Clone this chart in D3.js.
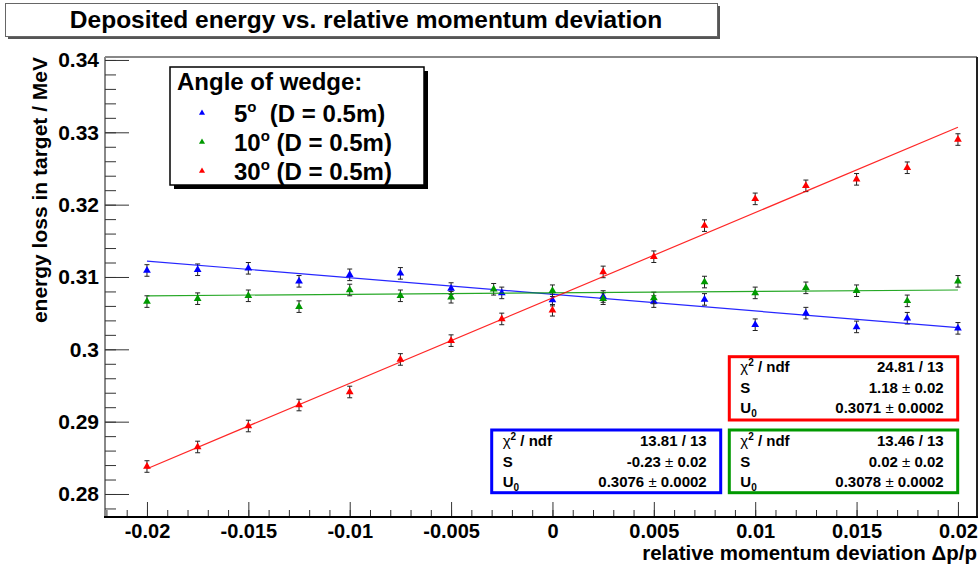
<!DOCTYPE html>
<html lang="en">
<head>
  <meta charset="UTF-8">
  <title>Deposited energy vs. relative momentum deviation</title>
  <script src="https://d3js.org/d3.v7.min.js"></script>
  <style>
    body { margin: 0; background: #fff; }
    svg { font-family: "Liberation Sans", Arial, Helvetica, sans-serif; font-weight: bold; }
    .axis path { display: none; }
    .axis line { stroke: #333; }
  </style>
</head>
<body>
  <svg id="chart"></svg>
  <script>
    const width = 979, height = 572;

    // data
    const xVals = [-0.02, -0.0175, -0.015, -0.0125, -0.01, -0.0075, -0.005, -0.0025, 0,
                   0.0025, 0.005, 0.0075, 0.01, 0.0125, 0.015, 0.0175, 0.02];
    const xValsGreen = [-0.02, -0.0175, -0.015, -0.0125, -0.01, -0.0075, -0.005, -0.0029, 0,
                        0.0025, 0.005, 0.0075, 0.01, 0.0125, 0.015, 0.0175, 0.02];
    const wedge5 = [0.3109, 0.3110, 0.3112, 0.3094, 0.3103, 0.3105, 0.3084, 0.3078, 0.3068,
                    0.3073, 0.3066, 0.3069, 0.3034, 0.3050, 0.3031, 0.3043, 0.3029];
    const wedge10 = [0.3066, 0.3070, 0.3074, 0.3059, 0.3082, 0.3074, 0.3072, 0.3083, 0.3081,
                     0.3070, 0.3071, 0.3093, 0.3078, 0.3085, 0.3081, 0.3067, 0.3094];
    const wedge30 = [0.2838, 0.2865, 0.2894, 0.2923, 0.2941, 0.2986, 0.3012, 0.3042, 0.3054,
                     0.3107, 0.3128, 0.3171, 0.3208, 0.3226, 0.3235, 0.3251, 0.3290];
    const errY = 0.0008;

    // fit results (U = U0 + S * dp/p)
    const seriesNames = ["5", "10", "30"];
    const fitS = [-0.23, 0.02, 1.18];
    const fitU0 = [0.3076, 0.3078, 0.3071];
    const chiText = ["13.81 / 13", "13.46 / 13", "24.81 / 13"];
    const sText = ["-0.23", "0.02", "1.18"];
    const sErrText = ["0.02", "0.02", "0.02"];
    const uText = ["0.3076", "0.3078", "0.3071"];
    const uErrText = ["0.0002", "0.0002", "0.0002"];

    const xTicks = [-0.02, -0.015, -0.01, -0.005, 0, 0.005, 0.01, 0.015, 0.02];
    const xTickLabels = ["-0.02", "-0.015", "-0.01", "-0.005", "0", "0.005", "0.01", "0.015", "0.02"];
    const yTicks = [0.28, 0.29, 0.30, 0.31, 0.32, 0.33, 0.34];
    const yTickLabels = ["0.28", "0.29", "0.3", "0.31", "0.32", "0.33", "0.34"];

    const colors = ["#0000ff", "#009900", "#ff0000"];

    const svg = d3.select("#chart").attr("width", width).attr("height", height);

    const frame = { left: 105, right: 977, top: 57, bottom: 517 };
    const x = d3.scaleLinear().domain([-0.02207, 0.02094]).range([frame.left, frame.right]);
    const y = d3.scaleLinear().domain([0.27682, 0.34041]).range([frame.bottom, frame.top]);

    // frame
    svg.append("line").attr("x1", frame.left).attr("x2", frame.right).attr("y1", frame.top).attr("y2", frame.top)
      .attr("stroke", "#888").attr("stroke-width", 2);
    svg.append("line").attr("x1", frame.left).attr("x2", frame.left).attr("y1", frame.top).attr("y2", frame.bottom)
      .attr("stroke", "#888").attr("stroke-width", 2);
    svg.append("line").attr("x1", frame.right).attr("x2", frame.right).attr("y1", frame.top).attr("y2", frame.bottom)
      .attr("stroke", "#222").attr("stroke-width", 2);

    // y axis: ticks inward
    const yMinor = d3.range(0.278, 0.3401, 0.002);
    svg.append("g").attr("class", "axis").attr("transform", `translate(${frame.left},0)`)
      .call(d3.axisRight(y).tickValues(yMinor).tickSize(11).tickFormat(""));
    const yAx = svg.append("g").attr("class", "axis").attr("transform", `translate(${frame.left},0)`)
      .call(d3.axisRight(y).tickValues(yTicks).tickSize(24).tickFormat((d, i) => yTickLabels[i]));
    yAx.selectAll("text").attr("x", -6).attr("text-anchor", "end")
      .attr("font-size", 21).attr("font-family", "Liberation Sans, Arial, sans-serif").attr("font-weight", "bold")
      .attr("fill", "#000");

    // x axis: ticks inward
    const xMinor = d3.range(-0.022, 0.0205, 0.001);
    svg.append("g").attr("class", "axis").attr("transform", `translate(0,${frame.bottom})`)
      .call(d3.axisTop(x).tickValues(xMinor).tickSize(7).tickFormat(""));
    const xAx = svg.append("g").attr("class", "axis").attr("transform", `translate(0,${frame.bottom})`)
      .call(d3.axisTop(x).tickValues(xTicks).tickSize(15).tickFormat((d, i) => xTickLabels[i]));
    xAx.selectAll("text").attr("y", 21).attr("dy", 0).attr("text-anchor", "middle")
      .attr("font-size", 20).attr("font-family", "Liberation Sans, Arial, sans-serif").attr("font-weight", "bold")
      .attr("fill", "#000");

    svg.append("line").attr("x1", frame.left - 1).attr("x2", frame.right + 1).attr("y1", frame.bottom).attr("y2", frame.bottom)
      .attr("stroke", "#000").attr("stroke-width", 2);

    // axis titles
    svg.append("text").attr("transform", `translate(47,${frame.top}) rotate(-90)`)
      .attr("text-anchor", "end").attr("font-size", 21).text("energy loss in target / MeV");
    svg.append("text").attr("x", frame.right).attr("y", 560)
      .attr("text-anchor", "end").attr("font-size", 20.5).text("relative momentum deviation \u0394p/p");

    // series
    const series = [
      { xs: xVals, ys: wedge5 },
      { xs: xValsGreen, ys: wedge10 },
      { xs: xVals, ys: wedge30 }
    ];
    const tri = d3.symbol().type(d3.symbolTriangle).size(26);

    series.forEach((s, k) => {
      const pts = s.xs.map((xv, i) => ({ x: xv, y: s.ys[i] }));
      const g = svg.append("g");
      // error bars
      const eb = g.selectAll(".eb").data(pts).enter().append("g");
      eb.append("line").attr("x1", d => x(d.x)).attr("x2", d => x(d.x))
        .attr("y1", d => y(d.y - errY)).attr("y2", d => y(d.y + errY)).attr("stroke", "#222");
      eb.append("line").attr("x1", d => x(d.x) - 2.5).attr("x2", d => x(d.x) + 2.5)
        .attr("y1", d => y(d.y - errY)).attr("y2", d => y(d.y - errY)).attr("stroke", "#222");
      eb.append("line").attr("x1", d => x(d.x) - 2.5).attr("x2", d => x(d.x) + 2.5)
        .attr("y1", d => y(d.y + errY)).attr("y2", d => y(d.y + errY)).attr("stroke", "#222");
      // fit line
      const fitPts = [-0.02, 0.02].map(xv => [x(xv), y(fitU0[k] + fitS[k] * xv)]);
      g.append("path").attr("d", d3.line()(fitPts)).attr("stroke", colors[k])
        .attr("stroke-width", 1.2).attr("fill", "none").attr("opacity", 0.85);
      // markers
      g.selectAll(".m").data(pts).enter().append("path")
        .attr("d", tri).attr("transform", d => `translate(${x(d.x)},${y(d.y)})`)
        .attr("fill", colors[k]);
    });

    // title box
    svg.append("rect").attr("x", 8).attr("y", 6).attr("width", 712).attr("height", 33).attr("fill", "#555");
    svg.append("rect").attr("x", 5.5).attr("y", 3.5).attr("width", 712).attr("height", 33)
      .attr("fill", "#fff").attr("stroke", "#666");
    svg.append("text").attr("x", 366).attr("y", 28).attr("text-anchor", "middle").attr("font-size", 24.5)
      .text("Deposited energy vs. relative momentum deviation");

    // legend
    svg.append("rect").attr("x", 174).attr("y", 71).attr("width", 254).attr("height", 118).attr("fill", "#000");
    svg.append("rect").attr("x", 170).attr("y", 67).attr("width", 254).attr("height", 118)
      .attr("fill", "#fff").attr("stroke", "#000").attr("stroke-width", 1.5);
    svg.append("text").attr("x", 177).attr("y", 90).attr("font-size", 24).text("Angle of wedge:");
    seriesNames.forEach((nm, k) => {
      const cy = 113 + k * 29;
      svg.append("path").attr("d", d3.symbol().type(d3.symbolTriangle).size(16))
        .attr("transform", `translate(202,${cy})`).attr("fill", colors[k]);
      const t = svg.append("text").attr("x", 234).attr("y", cy + 9).attr("font-size", 24);
      t.append("tspan").text(nm);
      t.append("tspan").attr("dy", -10).attr("font-size", 15).text("o");
      t.append("tspan").attr("dy", 10).text(k === 0 ? "\u00a0 (D = 0.5m)" : " (D = 0.5m)");
    });

    // fit statistics boxes
    const boxes = [
      { x0: 491.7, y0: 430, x1: 720.7, y1: 492.7 },
      { x0: 729.3, y0: 430, x1: 957.7, y1: 492.7 },
      { x0: 729.3, y0: 356.7, x1: 957.7, y1: 420 }
    ];
    boxes.forEach((b, k) => {
      svg.append("rect").attr("x", b.x0).attr("y", b.y0).attr("width", b.x1 - b.x0).attr("height", b.y1 - b.y0)
        .attr("fill", "#fff").attr("stroke", colors[k]).attr("stroke-width", 3);
      const lx = b.x0 + 11, rx = b.x1 - 14;
      const rows = [b.y0 + 15.5, b.y0 + 36.5, b.y0 + 56.5];
      const c = svg.append("text").attr("x", lx).attr("y", rows[0]).attr("font-size", 15);
      c.append("tspan").attr("font-weight", "normal").text("\u03c7");
      c.append("tspan").attr("dy", -6).attr("font-size", 10).text("2");
      c.append("tspan").attr("dy", 6).text(" / ndf");
      svg.append("text").attr("x", rx).attr("y", rows[0]).attr("font-size", 15).attr("text-anchor", "end").text(chiText[k]);
      svg.append("text").attr("x", lx).attr("y", rows[1]).attr("font-size", 15).text("S");
      const sv = svg.append("text").attr("x", rx).attr("y", rows[1]).attr("font-size", 15).attr("text-anchor", "end");
      sv.append("tspan").text(sText[k]);
      sv.append("tspan").attr("font-weight", "normal").text(" \u00b1 ");
      sv.append("tspan").text(sErrText[k]);
      const u = svg.append("text").attr("x", lx).attr("y", rows[2]).attr("font-size", 15);
      u.append("tspan").text("U");
      u.append("tspan").attr("dy", 4).attr("font-size", 10).text("0");
      const uv = svg.append("text").attr("x", rx).attr("y", rows[2]).attr("font-size", 15).attr("text-anchor", "end");
      uv.append("tspan").text(uText[k]);
      uv.append("tspan").attr("font-weight", "normal").text(" \u00b1 ");
      uv.append("tspan").text(uErrText[k]);
    });
  </script>
</body>
</html>
